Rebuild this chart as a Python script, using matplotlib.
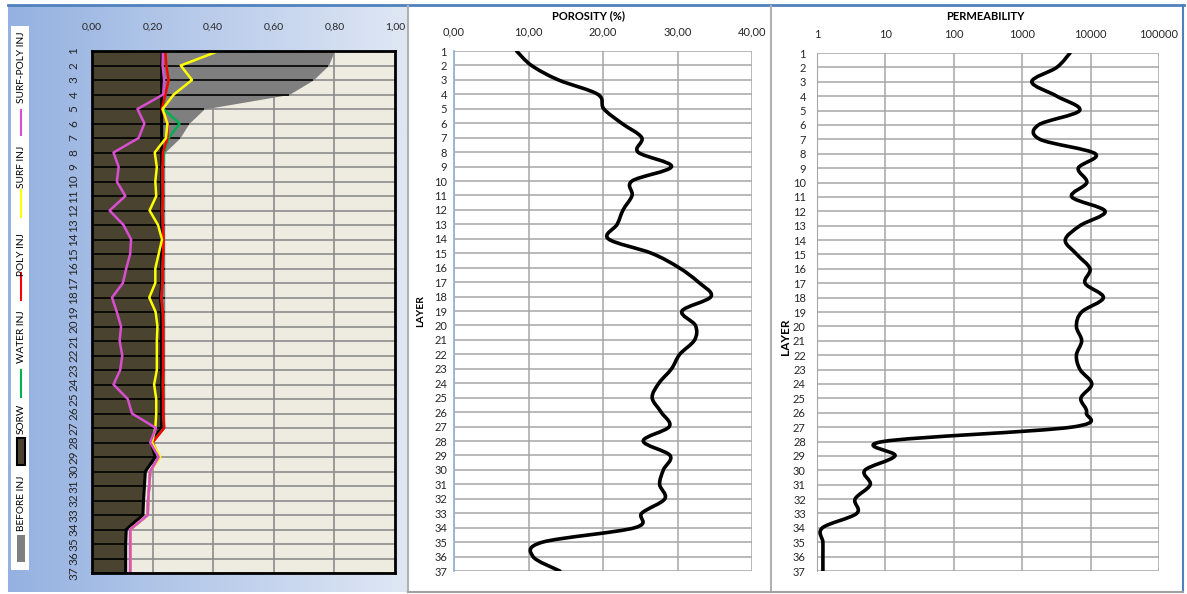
import numpy as np
import matplotlib
matplotlib.use('Agg')
import matplotlib.pyplot as plt
from matplotlib.path import Path
from matplotlib.patches import PathPatch, Rectangle
from matplotlib.lines import Line2D
from matplotlib.ticker import FuncFormatter

plt.rcParams['font.family'] = ['Lato', 'DejaVu Sans']

layers = list(range(1, 38))

# saturation panel (fraction)
before_inj = [0.80, 0.78, 0.73, 0.65, 0.37, 0.32, 0.29, 0.24, 0.24, 0.24,
              0.24, 0.24, 0.24, 0.24, 0.24, 0.24, 0.24, 0.24, 0.24, 0.24,
              0.24, 0.24, 0.24, 0.24, 0.24, 0.24, 0.24, 0.195, 0.209, 0.176,
              0.173, 0.170, 0.168, 0.113, 0.111, 0.111, 0.111]
sorw = [0.232, 0.23, 0.23, 0.23, 0.23, 0.23, 0.23, 0.23, 0.23, 0.23,
        0.23, 0.23, 0.23, 0.23, 0.23, 0.23, 0.23, 0.226, 0.23, 0.23,
        0.23, 0.23, 0.23, 0.23, 0.23, 0.23, 0.23, 0.195, 0.209, 0.176,
        0.173, 0.170, 0.168, 0.113, 0.111, 0.111, 0.111]
water_inj = [0.242, 0.245, 0.253, 0.242, 0.236, 0.289, 0.253, 0.238, 0.233, 0.233,
             0.234, 0.232, 0.234, 0.236, 0.235, 0.233, 0.233, 0.229, 0.234, 0.235,
             0.235, 0.235, 0.235, 0.234, 0.235, 0.235, 0.238, 0.198, 0.222, 0.192,
             0.189, 0.185, 0.184, 0.126, 0.126, 0.126, 0.126]
poly_inj = [0.242, 0.245, 0.253, 0.242, 0.231, 0.249, 0.249, 0.234, 0.233, 0.233,
            0.234, 0.232, 0.234, 0.236, 0.235, 0.233, 0.233, 0.229, 0.234, 0.235,
            0.235, 0.235, 0.235, 0.234, 0.235, 0.235, 0.238, 0.200, 0.222, 0.192,
            0.189, 0.185, 0.184, 0.126, 0.126, 0.126, 0.126]
surf_inj = [0.418, 0.293, 0.330, 0.270, 0.233, 0.249, 0.244, 0.207, 0.214, 0.209,
            0.212, 0.190, 0.218, 0.231, 0.220, 0.209, 0.209, 0.189, 0.210, 0.216,
            0.214, 0.214, 0.214, 0.205, 0.212, 0.212, 0.209, 0.198, 0.225, 0.192,
            0.189, 0.185, 0.184, 0.126, 0.126, 0.126, 0.126]
surf_poly_inj = [0.234, 0.233, 0.238, 0.235, 0.150, 0.173, 0.154, 0.071, 0.088, 0.082,
                 0.110, 0.058, 0.104, 0.129, 0.126, 0.113, 0.102, 0.066, 0.082, 0.096,
                 0.091, 0.100, 0.093, 0.071, 0.118, 0.132, 0.211, 0.192, 0.220, 0.192,
                 0.189, 0.185, 0.184, 0.126, 0.126, 0.126, 0.126]

porosity = [8.4, 10.4, 14.0, 19.3, 20.1, 22.5, 25.2, 24.7, 29.2, 23.9,
            23.9, 22.7, 21.9, 20.7, 26.5, 30.2, 32.8, 34.5, 30.6, 32.4,
            32.3, 30.3, 29.2, 27.5, 26.6, 27.8, 28.9, 25.4, 29.0, 28.1,
            27.6, 28.3, 25.2, 24.3, 11.9, 10.6, 14.2]

permeability = [5000, 3200, 1380, 3200, 6900, 1730, 1820, 11700, 6600, 8800,
                5300, 16300, 7000, 4260, 6300, 9800, 8300, 15400, 7400, 6200,
                7400, 6200, 7000, 10400, 7200, 8700, 5300, 9.3, 13.8, 5.0,
                6.0, 3.6, 3.8, 1.2, 1.22, 1.22, 1.22]

sat_ticks = [0, 0.2, 0.4, 0.6, 0.8, 1.0]
por_ticks = [0, 10, 20, 30, 40]
perm_ticks = [1, 10, 100, 1000, 10000, 100000]

W, H = 1187, 594
fig = plt.figure(figsize=(W / 100, H / 100), dpi=100)


def box(x0, y0, x1, y1):
    return [x0 / W, 1 - y1 / H, (x1 - x0) / W, (y1 - y0) / H]


def fx(px):
    return px / W


def fy(py):
    return 1 - py / H


def smooth_path(x, y):
    # catmull-rom through the points, as bezier segments (excel "smoothed line")
    x = np.asarray(x, float)
    y = np.asarray(y, float)
    n = len(x)
    verts = [(x[0], y[0])]
    codes = [Path.MOVETO]
    for i in range(n - 1):
        a = max(i - 1, 0)
        d = min(i + 2, n - 1)
        verts.append((x[i] + (x[i + 1] - x[a]) / 6, y[i] + (y[i + 1] - y[a]) / 6))
        verts.append((x[i + 1] - (x[d] - x[i]) / 6, y[i + 1] - (y[d] - y[i]) / 6))
        verts.append((x[i + 1], y[i + 1]))
        codes += [Path.CURVE4] * 3
    return np.array(verts), codes


comma = FuncFormatter(lambda v, p: f"{v:.2f}".replace('.', ','))
tick_col = '#262626'

# ---- left panel background (blue gradient)
bg = fig.add_axes(box(8, 6, 407, 592))
c0 = np.array([0x94, 0xb1, 0xe1]) / 255
c1 = np.array([0xdf, 0xe7, 0xf4]) / 255
t = np.linspace(0, 1, 256)[None, :, None]
bg.imshow(c0 + (c1 - c0) * t, aspect='auto', extent=[0, 1, 0, 1])
bg.axis('off')

# frame lines
fig.add_artist(Line2D([fx(8), fx(1184)], [fy(5), fy(5)], color='#4f81bd', lw=2))
fig.add_artist(Line2D([fx(408), fx(408)], [fy(6), fy(592)], color='#b0b0b0', lw=1.5))
fig.add_artist(Line2D([fx(771), fx(771)], [fy(6), fy(592)], color='#b0b0b0', lw=1.5))
fig.add_artist(Line2D([fx(1183), fx(1183)], [fy(5), fy(592)], color='#4f81bd', lw=1.5))
fig.add_artist(Line2D([fx(408), fx(1183)], [fy(592), fy(592)], color='#a0a0a0', lw=1.5))

# ---- saturation panel
ax1 = fig.add_axes(box(92, 51, 395, 573))
ax1.set_facecolor('#eeece1')
ax1.set_xlim(0, 1)
ax1.set_ylim(37, 1)
for v in sat_ticks[1:-1]:
    ax1.axvline(v, color='#8c8c8c', lw=1.2, zorder=0.5)
ax1.hlines(layers, 0, 1, color='#8c8c8c', lw=1.2, zorder=0.5)
ax1.fill_betweenx(layers, 0, before_inj, color='#7f7f7f', lw=0, zorder=1)
ax1.fill_betweenx(layers, 0, sorw, color='#4a4330', lw=0, zorder=2)
ax1.hlines(layers, 0, before_inj, color='black', lw=1.2, zorder=3)
ax1.plot(sorw, layers, color='black', lw=2.2, zorder=4)
ax1.plot(water_inj, layers, color='#00b050', lw=1.8, zorder=5)
ax1.plot(poly_inj, layers, color='#ff0000', lw=1.8, zorder=6)
ax1.plot(surf_inj, layers, color='#ffff00', lw=1.8, zorder=7)
ax1.plot(surf_poly_inj, layers, color='#d94fd2', lw=1.8, zorder=8)
for s in ax1.spines.values():
    s.set_color('black')
    s.set_linewidth(2)
    s.set_zorder(10)
ax1.xaxis.tick_top()
ax1.set_xticks(sat_ticks)
ax1.xaxis.set_major_formatter(comma)
ax1.set_yticks(layers)
ax1.set_yticklabels([str(l) for l in layers], rotation=90, va='center')
ax1.tick_params(axis='x', length=0, pad=14, labelsize=7.5, labelcolor=tick_col)
ax1.tick_params(axis='y', length=0, pad=9, labelsize=8.5, labelcolor=tick_col)

# legend strip (rotated)
fig.add_artist(Rectangle((fx(11), fy(570)), fx(29) - fx(11), fy(26) - fy(570),
                         transform=fig.transFigure, facecolor='white', edgecolor='none'))
leg_lines = [('SURF-POLY INJ', '#d94fd2', 67, 110, 135),
             ('SURF INJ', '#ffff00', 167, 190, 217),
             ('POLY INJ', '#ff0000', 255, 273, 300),
             ('WATER INJ', '#00b050', 337, 370, 397)]
for lab, col, ty, l0, l1 in leg_lines:
    fig.text(fx(21), fy(ty), lab, rotation=90, ha='center', va='center',
             fontsize=7.3, color='black')
    fig.add_artist(Line2D([fx(21), fx(21)], [fy(l0), fy(l1)], color=col, lw=1.5))
fig.text(fx(21), fy(419), 'SORW', rotation=90, ha='center', va='center', fontsize=7.3)
fig.add_artist(Rectangle((fx(17), fy(465)), fx(8), fy(438) - fy(465), transform=fig.transFigure,
                         facecolor='#4a4330', edgecolor='black', lw=1.5))
fig.text(fx(21), fy(503), 'BEFORE INJ', rotation=90, ha='center', va='center', fontsize=7.3)
fig.add_artist(Rectangle((fx(17), fy(562)), fx(8), fy(535) - fy(562), transform=fig.transFigure,
                         facecolor='#7f7f7f', edgecolor='none'))

# ---- porosity panel
ax2 = fig.add_axes(box(454, 51, 752, 571))
ax2.set_xlim(0, 40)
ax2.set_ylim(37, 1)
ax2.xaxis.tick_top()
ax2.set_xticks(por_ticks)
ax2.xaxis.set_major_formatter(comma)
ax2.set_yticks(layers)
ax2.grid(True, color='#a6a6a6', lw=1.1)
ax2.set_axisbelow(True)
for k, s in ax2.spines.items():
    s.set_visible(k == 'left')
ax2.spines['left'].set_color('#95b3d7')
ax2.spines['left'].set_linewidth(1.3)
ax2.tick_params(axis='x', length=0, pad=10, labelsize=8, labelcolor=tick_col)
ax2.tick_params(axis='y', length=0, pad=5, labelsize=8, labelcolor=tick_col)
v, c = smooth_path(porosity, layers)
ax2.add_patch(PathPatch(Path(v, c), fill=False, edgecolor='black', lw=2.6,
                        capstyle='round', joinstyle='round', zorder=5))
fig.text(fx(588), fy(16), 'POROSITY (%)', ha='center', va='center',
         fontsize=8, fontweight='bold')
fig.text(fx(421), fy(311), 'LAYER', rotation=90, ha='center', va='center',
         fontsize=7.5, fontweight='bold')

# ---- permeability panel
ax3 = fig.add_axes(box(817, 53, 1159, 571))
ax3.set_xscale('log')
ax3.set_xlim(1, 100000)
ax3.set_ylim(37, 1)
ax3.xaxis.tick_top()
ax3.set_xticks(perm_ticks)
ax3.set_xticks([], minor=True)
ax3.xaxis.set_major_formatter(FuncFormatter(lambda val, p: f"{int(round(val))}"))
ax3.set_yticks(layers)
ax3.grid(True, color='#a6a6a6', lw=1.1)
ax3.set_axisbelow(True)
for k, s in ax3.spines.items():
    s.set_visible(k == 'left')
ax3.spines['left'].set_color('#a6a6a6')
ax3.tick_params(axis='x', length=0, pad=9, labelsize=8, labelcolor=tick_col)
ax3.tick_params(axis='y', length=0, pad=8, labelsize=8, labelcolor=tick_col)
v, c = smooth_path(np.log10(permeability), layers)
v[:, 0] = 10 ** v[:, 0]
ax3.add_patch(PathPatch(Path(v, c), fill=False, edgecolor='black', lw=2.6,
                        capstyle='round', joinstyle='round', zorder=5))
fig.text(fx(985), fy(16), 'PERMEABILITY', ha='center', va='center',
         fontsize=8, fontweight='bold')
fig.text(fx(785), fy(337), 'LAYER', rotation=90, ha='center', va='center',
         fontsize=8.5, fontweight='bold')

fig.savefig('out.png', dpi=100)
